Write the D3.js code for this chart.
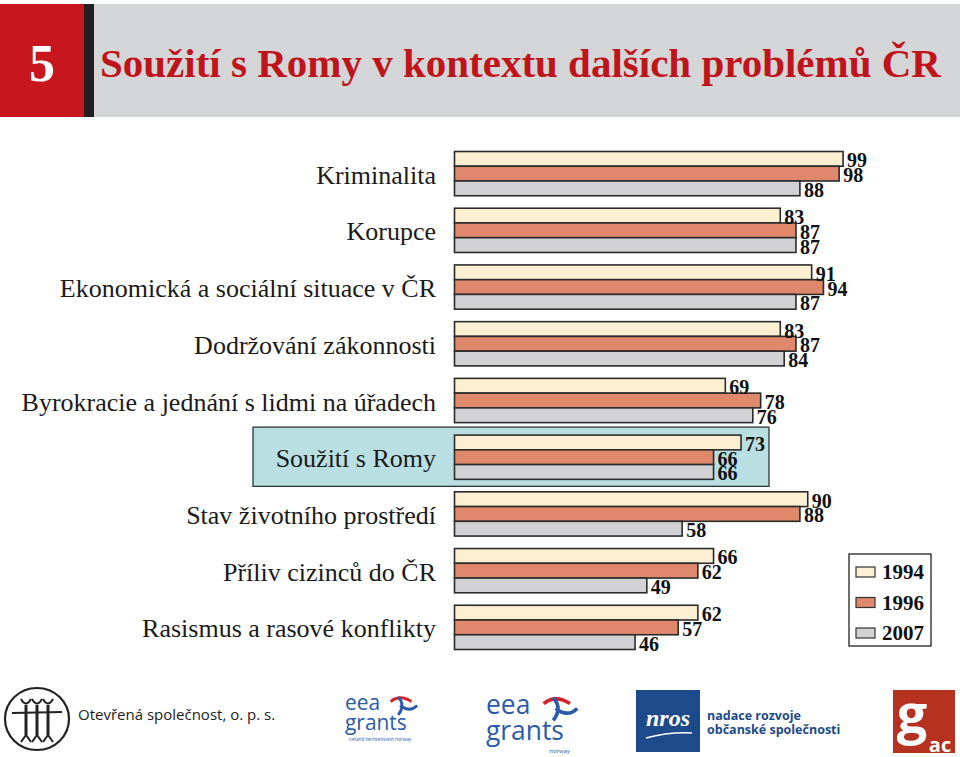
<!DOCTYPE html>
<html>
<head>
<meta charset="utf-8">
<script src="https://cdn.jsdelivr.net/npm/d3@7"></script>
<style>
  html, body { margin: 0; padding: 0; background: #ffffff; }
  svg { display: block; }
</style>
</head>
<body>
<svg id="chart" width="960" height="757"></svg>
<script>
// ---------------- DATA ----------------
const categories = [
  "Kriminalita",
  "Korupce",
  "Ekonomická a sociální situace v ČR",
  "Dodržování zákonnosti",
  "Byrokracie a jednání s lidmi na úřadech",
  "Soužití s Romy",
  "Stav životního prostředí",
  "Příliv cizinců do ČR",
  "Rasismus a rasové konflikty"
];
const years = ["1994", "1996", "2007"];
const values1994 = [99, 83, 91, 83, 69, 73, 90, 66, 62];
const values1996 = [98, 87, 94, 87, 78, 66, 88, 62, 57];
const values2007 = [88, 87, 87, 84, 76, 66, 58, 49, 46];
const highlighted = "Soužití s Romy";
const titleNumber = "5";
const titleText = "Soužití s Romy v kontextu dalších problémů ČR";

const seriesValues = [values1994, values1996, values2007];
const colors = ["#fdf0d2", "#e0886c", "#d2d2d4"];

// ---------------- SETUP ----------------
const svg = d3.select("#chart");
const serif = "'Liberation Serif', 'Times New Roman', serif";
const sans = "'Open Sans', 'Noto Sans', sans-serif";

// header
svg.append("rect").attr("x", 0).attr("y", 4).attr("width", 960).attr("height", 113).attr("fill", "#d4d5d7");
svg.append("rect").attr("x", 0).attr("y", 4).attr("width", 85).attr("height", 113).attr("fill", "#c8161e");
svg.append("rect").attr("x", 84).attr("y", 4).attr("width", 10).attr("height", 113).attr("fill", "#231f20");
svg.append("text").attr("x", 42).attr("y", 81).attr("text-anchor", "middle")
  .attr("font-family", serif).attr("font-weight", "bold").attr("font-size", 52)
  .attr("fill", "#ffffff").text(titleNumber);
svg.append("text").attr("x", 100).attr("y", 77)
  .attr("font-family", serif).attr("font-weight", "bold").attr("font-size", 41)
  .attr("fill", "#c0141c").text(titleText);

// scales
const x = d3.scaleLinear().domain([0, 100]).range([454.5, 847]);
const y = d3.scaleBand().domain(categories).range([151.5, 649.5]).paddingInner(0.22).paddingOuter(0);
const ySub = d3.scaleBand().domain(years).range([0, y.bandwidth()]);

// highlight box
svg.append("rect")
  .attr("x", 253).attr("y", y(highlighted) - 8)
  .attr("width", 516).attr("height", y.bandwidth() + 15)
  .attr("fill", "#b9dfe3").attr("stroke", "#2a3535").attr("stroke-width", 1.3);

// category labels
svg.append("g").selectAll("text").data(categories).join("text")
  .attr("x", 436)
  .attr("y", d => y(d) + y.bandwidth() / 2 + 1)
  .attr("dy", "0.35em")
  .attr("text-anchor", "end")
  .attr("font-family", serif).attr("font-size", 26)
  .attr("fill", "#1a1a1a")
  .text(d => d);

// bars
const rows = [];
categories.forEach((c, i) => {
  years.forEach((yr, j) => rows.push({ cat: c, year: yr, s: j, v: seriesValues[j][i] }));
});

const g = svg.append("g");
g.selectAll("rect").data(rows).join("rect")
  .attr("x", x(0))
  .attr("y", d => y(d.cat) + ySub(d.year))
  .attr("width", d => x(d.v) - x(0))
  .attr("height", ySub.bandwidth())
  .attr("fill", d => colors[d.s])
  .attr("stroke", "#2b2b2b").attr("stroke-width", 1.6);

g.selectAll("text").data(rows).join("text")
  .attr("x", d => x(d.v) + 4)
  .attr("y", d => y(d.cat) + ySub(d.year) + ySub.bandwidth() / 2 + 1.5)
  .attr("dy", "0.35em")
  .attr("font-family", serif).attr("font-weight", "bold").attr("font-size", 20)
  .attr("fill", "#111")
  .text(d => d.v);

// legend
const lg = svg.append("g");
lg.append("rect").attr("x", 849).attr("y", 554).attr("width", 82).attr("height", 92)
  .attr("fill", "#fff").attr("stroke", "#222").attr("stroke-width", 1.3);
years.forEach((yr, j) => {
  const cy = 572 + j * 30.5;
  lg.append("rect").attr("x", 856).attr("y", cy - 5).attr("width", 19).attr("height", 10)
    .attr("fill", colors[j]).attr("stroke", "#333").attr("stroke-width", 1.2);
  lg.append("text").attr("x", 882).attr("y", cy).attr("dy", "0.35em")
    .attr("font-family", serif).attr("font-weight", "bold").attr("font-size", 21)
    .attr("fill", "#111").text(yr);
});

// ---------------- FOOTER LOGOS ----------------
const f = svg.append("g");
// Otevřená společnost
f.append("ellipse").attr("cx", 37).attr("cy", 719).attr("rx", 32).attr("ry", 31)
  .attr("fill", "none").attr("stroke", "#222").attr("stroke-width", 2.2);
f.append("line").attr("x1", 12).attr("x2", 62).attr("y1", 713).attr("y2", 712)
  .attr("stroke", "#222").attr("stroke-width", 2);
[26, 37, 48].forEach(cx => {
  f.append("path").attr("d", `M${cx-5},699 Q${cx},708 ${cx+5},699`).attr("fill", "none").attr("stroke", "#222").attr("stroke-width", 2);
  f.append("line").attr("x1", cx).attr("x2", cx).attr("y1", 705).attr("y2", 735).attr("stroke", "#222").attr("stroke-width", 3);
  f.append("path").attr("d", `M${cx-5},742 L${cx},735 L${cx+5},742`).attr("fill", "none").attr("stroke", "#222").attr("stroke-width", 2);
});
f.append("text").attr("x", 78).attr("y", 720)
  .attr("font-family", sans).attr("font-size", 15).attr("fill", "#222")
  .text("Otevřená společnost, o. p. s.");

// EEA grants
function eea(gx, gy, s, sub) {
  const e = f.append("g").attr("transform", `translate(${gx},${gy}) scale(${s})`);
  e.append("text").attr("x", 0).attr("y", 17).attr("font-family", sans).attr("font-size", 22)
    .attr("fill", "#2c5aa8").text("eea");
  e.append("text").attr("x", 0).attr("y", 38).attr("font-family", sans).attr("font-size", 22)
    .attr("fill", "#2c5aa8").text("grants");
  e.append("path").attr("d", "M48,8 Q58,0 70,8").attr("fill", "none").attr("stroke", "#d2232a").attr("stroke-width", 3);
  e.append("path").attr("d", "M56,3 Q64,12 56,22 M58,12 Q68,20 76,12").attr("fill", "none").attr("stroke", "#2c5aa8").attr("stroke-width", 3);
  e.append("text").attr("x", 70).attr("y", 49).attr("text-anchor", "end").attr("font-family", sans).attr("font-size", 5)
    .attr("fill", "#2c5aa8").text(sub);
}
eea(345, 694, 0.95, "iceland liechtenstein norway");
eea(486, 694, 1.2, "norway");

// NROS
f.append("rect").attr("x", 636).attr("y", 690).attr("width", 64).attr("height", 62).attr("fill", "#1c4a8a");
f.append("text").attr("x", 668).attr("y", 726).attr("text-anchor", "middle")
  .attr("font-family", serif).attr("font-style", "italic").attr("font-weight", "bold").attr("font-size", 24)
  .attr("fill", "#fff").text("nros");
f.append("path").attr("d", "M646,738 Q668,732 692,733").attr("fill", "none").attr("stroke", "#fff").attr("stroke-width", 1.5);
f.append("text").attr("x", 707).attr("y", 720).attr("font-family", sans).attr("font-weight", "bold")
  .attr("font-size", 12.5).attr("fill", "#1c4a8a").text("nadace rozvoje");
f.append("text").attr("x", 707).attr("y", 734).attr("font-family", sans).attr("font-weight", "bold")
  .attr("font-size", 12.5).attr("fill", "#1c4a8a").text("občanské společnosti");

// g ac
f.append("rect").attr("x", 893).attr("y", 690).attr("width", 62).attr("height", 63).attr("fill", "#b4321f");
f.append("text").attr("x", 912).attr("y", 733).attr("text-anchor", "middle")
  .attr("font-family", sans).attr("font-weight", "bold").attr("font-size", 54)
  .attr("fill", "#fff").text("g");
f.append("text").attr("x", 940).attr("y", 752).attr("text-anchor", "middle")
  .attr("font-family", sans).attr("font-weight", "bold").attr("font-size", 20)
  .attr("fill", "#fff").text("ac");
</script>
</body>
</html>
